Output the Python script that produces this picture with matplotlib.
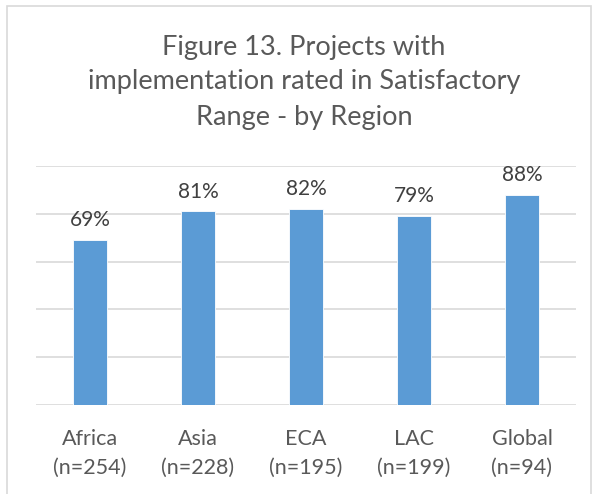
import matplotlib.pyplot as plt
from matplotlib.patches import Rectangle

# data
regions = ['Africa', 'Asia', 'ECA', 'LAC', 'Global']
counts = [254, 228, 195, 199, 94]
pct_satisfactory = [69, 81, 82, 79, 88]

bar_color = '#5B9BD5'
grid_color = '#D9D9D9'
text_color = '#595959'

plt.rcParams['font.family'] = ['Lato', 'DejaVu Sans']

fig = plt.figure(figsize=(5.96, 4.94), dpi=100)
ax = fig.add_axes([36 / 596, 89 / 494, 540 / 596, 239 / 494])

# chart frame, like the Excel chart border
fig.patches.append(Rectangle((7 / 596, -0.05), 584 / 596, 1.05 - 6 / 494,
                             transform=fig.transFigure, fill=False,
                             edgecolor=grid_color, linewidth=1.2))

x = range(len(regions))
bars = ax.bar(x, pct_satisfactory, width=0.31, color=bar_color,
              edgecolor='white', linewidth=0.6, zorder=3)

for b, v in zip(bars, pct_satisfactory):
    ax.annotate(str(v) + '%', (b.get_x() + b.get_width() / 2, v),
                xytext=(0, 7), textcoords='offset points',
                ha='center', va='bottom', fontsize=15, color='#404040')

ax.set_xlim(-0.5, len(regions) - 0.5)
ax.set_ylim(0, 100)
ax.set_yticks([0, 20, 40, 60, 80, 100])
ax.yaxis.grid(True, color=grid_color, linewidth=1.2, zorder=0)
ax.tick_params(axis='y', left=False, labelleft=False)
ax.tick_params(axis='x', length=0, pad=17)
ax.set_xticks(list(x))
ax.set_xticklabels([r + '\n(n=' + str(c) + ')' for r, c in zip(regions, counts)],
                   fontsize=15.5, color=text_color, linespacing=1.55)
for s in ['top', 'right', 'left', 'bottom']:
    ax.spines[s].set_visible(False)

fig.text(304 / 596, 1 - 82 / 494,
         'Figure 13. Projects with\nimplementation rated in Satisfactory\nRange - by Region',
         ha='center', va='center', fontsize=19.5, color=text_color, linespacing=1.5)

fig.savefig('out.png', dpi=100)
